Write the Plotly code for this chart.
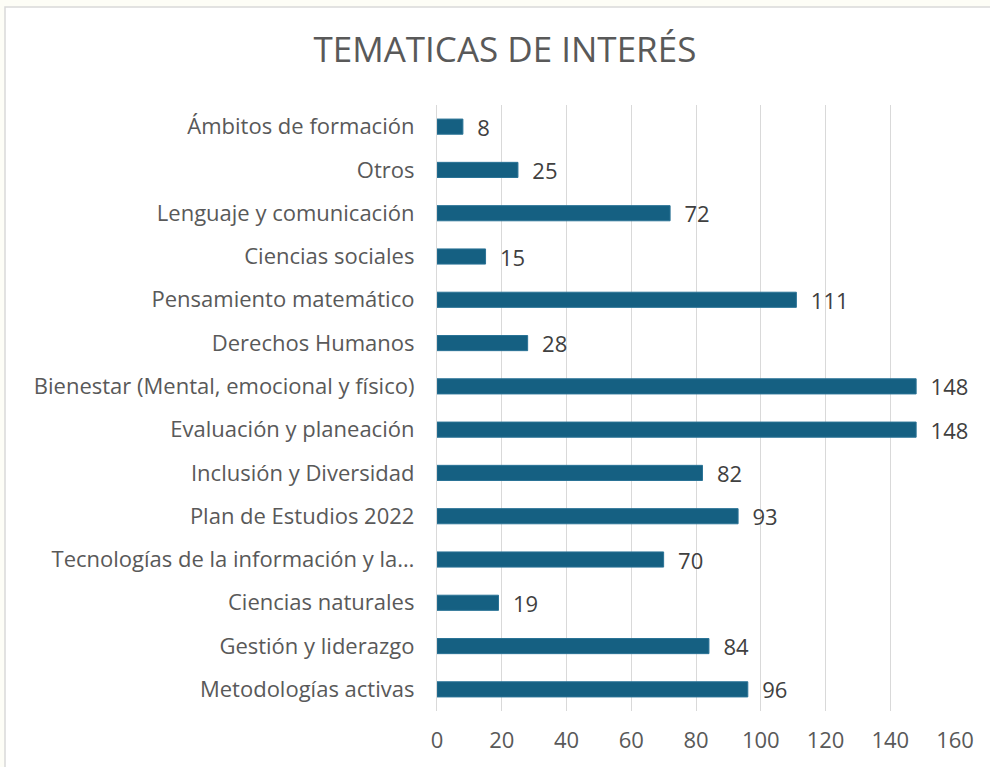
import plotly.graph_objects as go

categories = [
    "Ámbitos de formación",
    "Otros",
    "Lenguaje y comunicación",
    "Ciencias sociales",
    "Pensamiento matemático",
    "Derechos Humanos",
    "Bienestar (Mental, emocional y físico)",
    "Evaluación y planeación",
    "Inclusión y Diversidad",
    "Plan de Estudios 2022",
    "Tecnologías de la información y la…",
    "Ciencias naturales",
    "Gestión y liderazgo",
    "Metodologías activas",
]
values = [8, 25, 72, 15, 111, 28, 148, 148, 82, 93, 70, 19, 84, 96]
x_ticks = [0, 20, 40, 60, 80, 100, 120, 140, 160]

FONT = "Open Sans"
W, H = 990, 767
L, R, T, B = 437, 955, 105, 711
pw, ph = R - L, B - T

fig = go.Figure(go.Bar(
    x=values, y=categories, orientation="h",
    marker=dict(color="#156082", line=dict(color="#2a7396", width=1)),
    width=0.35,
    text=[f"  {v}" for v in values],
    textposition="outside",
    constraintext="none",
    textfont=dict(size=22, color="#404040", family=FONT),
    cliponaxis=False,
))

fig.update_layout(
    width=W, height=H,
    margin=dict(l=L, r=W - R, t=T, b=H - B),
    paper_bgcolor="#fdfdf6",
    plot_bgcolor="white",
    font=dict(family=FONT, size=22, color="#595959"),
    title=dict(text="TEMATICAS DE INTERÉS", x=0.51, xanchor="center",
               y=1 - 50 / H, yanchor="middle",
               font=dict(size=35, color="#595959", family=FONT)),
    showlegend=False,
    bargap=0.65,
    shapes=[dict(type="rect", xref="paper", yref="paper", layer="below",
                 x0=(5 - L) / pw, x1=(1000 - L) / pw,
                 y0=(B - 775) / ph, y1=(B - 7) / ph,
                 fillcolor="white", line=dict(color="#d9d9d9", width=1.5))],
)
fig.update_xaxes(range=[0, 160], tickvals=x_ticks, showgrid=True,
                 gridcolor="#d9d9d9", gridwidth=1.3, zeroline=False,
                 showline=False, ticks="", ticklabelstandoff=14,
                 tickfont=dict(size=22, color="#595959"))
fig.update_yaxes(autorange="reversed", showgrid=False, showline=True,
                 linecolor="#d9d9d9", linewidth=1.3, ticks="",
                 ticklabelstandoff=17,
                 tickfont=dict(size=22, color="#595959"))

fig.write_html("out.html",
               config={"displayModeBar": False},
               post_script="document.body.style.margin='0';"
                           "document.body.style.background='#fdfdf6';")
